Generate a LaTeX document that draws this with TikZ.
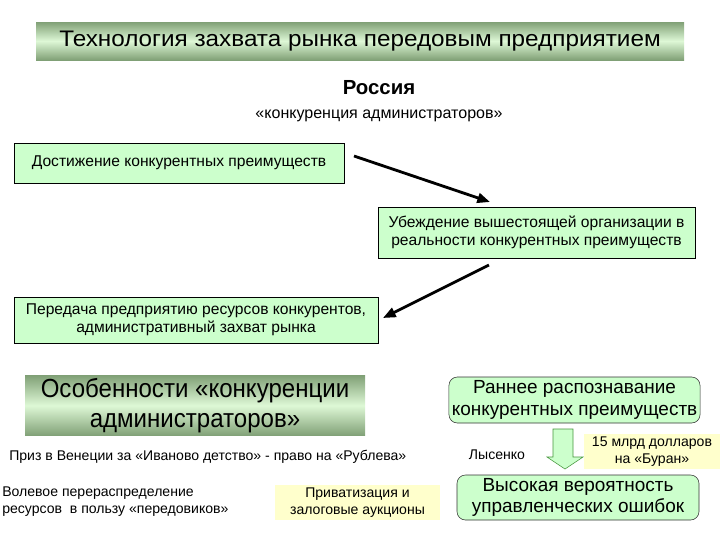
\documentclass[tikz,border=0pt]{standalone}
\usepackage{fontspec}
\setmainfont{Liberation Sans}
\newfontfamily\widesans[FakeStretch=1.08]{Liberation Sans}
\newfontfamily\narrowsans[FakeStretch=0.92]{Liberation Sans}
\usepackage{xcolor}
\usetikzlibrary{arrows.meta, positioning, calc}
\definecolor{boxgreen}{RGB}{204,255,204}
\definecolor{boxyellow}{RGB}{255,255,204}
\definecolor{bardark}{RGB}{128,160,118}
\definecolor{barlight}{RGB}{222,248,214}
\definecolor{arrowgreen}{RGB}{70,150,60}

\begin{document}
\begin{tikzpicture}[
  stepbox/.style={draw=black, fill=boxgreen, inner sep=2pt, align=center,
                  font=\fontsize{11.1}{13}\selectfont},
  roundbox/.style={draw=black!80, fill=boxgreen, rounded corners=6pt, align=center,
                   inner sep=2pt, font=\fontsize{13.5}{15.5}\selectfont},
  notebox/.style={fill=boxyellow, align=center, inner sep=2pt,
                  font=\fontsize{10}{12}\selectfont},
  bar/.style={top color=bardark, bottom color=bardark, middle color=barlight,
              align=center, inner sep=2pt},
  plain/.style={font=\fontsize{10}{12}\selectfont, inner sep=0pt},
  arrow/.style={-{Triangle[length=9pt,width=7pt]}, line width=2pt, black},
]
\useasboundingbox (0,0) rectangle (18,-13.5);

% title bar
\node[bar, minimum width=16.2cm, minimum height=0.95cm,
      font=\widesans\fontsize{16}{19}\selectfont] (title) at (9,-1.025)
  {Технология захвата рынка передовым предприятием};
\node[font=\bfseries\fontsize{14.5}{17}\selectfont] (russia) at (9.475,-2.2) {Россия};
\node[plain, font=\fontsize{11.4}{13}\selectfont] (sub) at (9.475,-2.9) {«конкуренция администраторов»};

% chain of steps
\node[stepbox, minimum width=8.25cm, minimum height=1.0cm] (reach) at (4.475,-4.075)
  {Достижение конкурентных преимуществ};
\node[stepbox, minimum width=7.925cm, minimum height=1.275cm] (convince) at (13.4125,-5.8125)
  {Убеждение вышестоящей организации в\\ реальности конкурентных преимуществ};
\node[stepbox, minimum width=9.1cm, minimum height=1.15cm] (transfer) at (4.9,-8.0)
  {Передача предприятию ресурсов конкурентов,\\ административный захват рынка};

\coordinate (a1s) at (8.85,-3.9);
\coordinate (a1e) at (12.25,-5.05);
\coordinate (a2s) at (12.225,-6.625);
\coordinate (a2e) at (9.575,-7.95);
\draw[arrow] (a1s) -- (a1e);
\draw[arrow] (a2s) -- (a2e);

% features
\node[bar, minimum width=8.5cm, minimum height=1.425cm,
      font=\narrowsans\fontsize{18.6}{21.5}\selectfont] (features) at (4.875,-10.1375)
  {Особенности «конкуренции\\ администраторов»};
\node[plain, anchor=west] (prize) at (0.225,-11.425)
  {Приз в Венеции за «Иваново детство» - право на «Рублева»};
\node[plain, anchor=west, align=left] (redist) at (0.05,-12.55)
  {Волевое перераспределение\\ ресурсов\ \ в пользу «передовиков»};
\node[notebox, minimum width=4.125cm, minimum height=0.875cm] (privat) at (8.9375,-12.5625)
  {Приватизация и\\ залоговые аукционы};

% early recognition
\node[roundbox, minimum width=5.975cm, minimum height=1.15cm] (early) at (14.3625,-10.0)
  {Раннее распознавание\\ конкурентных преимуществ};
\node[roundbox, minimum width=6.05cm, minimum height=1.125cm] (errors) at (14.45,-12.4375)
  {Высокая вероятность\\ управленческих ошибок};
\node[plain] (lysenko) at (12.425,-11.375) {Лысенко};
\node[notebox, minimum width=3.4cm, minimum height=0.825cm] (buran) at (16.3,-11.2875)
  {15 млрд долларов\\ на «Буран»};
\draw[draw=arrowgreen, fill=boxgreen]
  (13.825,-10.725) -- (14.325,-10.725) -- (14.325,-11.425) -- (14.575,-11.425)
  -- (14.125,-11.725) -- (13.675,-11.425) -- (13.825,-11.425) -- cycle;
\end{tikzpicture}
\end{document}
